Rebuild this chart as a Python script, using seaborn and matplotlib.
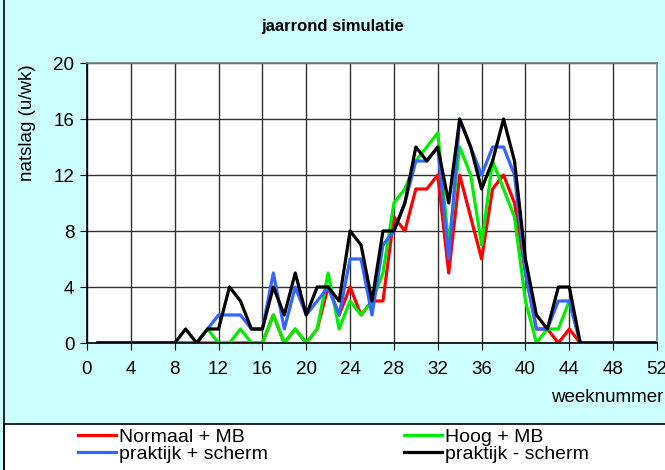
import pandas as pd
import numpy as np
import matplotlib
matplotlib.use("Agg")
import matplotlib.pyplot as plt
import seaborn as sns
from matplotlib.patches import Rectangle
from matplotlib.lines import Line2D

# weeks 1..52
weeks = list(range(1, 53))

normaal_mb = [0, 0, 0, 0, 0, 0, 0, 0, 0, 0,
              0, 0, 0, 0, 0, 0, 2, 0, 1, 0,
              1, 4, 2, 4, 2, 3, 3, 9, 8, 11,
              11, 12, 5, 12, 9, 6, 11, 12, 10, 5,
              1, 1, 0, 1, 0, 0, 0, 0, 0, 0,
              0, 0]
hoog_mb = [0, 0, 0, 0, 0, 0, 0, 0, 0, 0,
           1, 0, 0, 1, 0, 0, 2, 0, 1, 0,
           1, 5, 1, 3, 2, 3, 5, 10, 11, 13,
           14, 15, 7, 14, 12, 7, 13, 11, 9, 3,
           0, 1, 1, 3, 0, 0, 0, 0, 0, 0,
           0, 0]
praktijk_plus = [0, 0, 0, 0, 0, 0, 0, 0, 0, 0,
                 1, 2, 2, 2, 1, 1, 5, 1, 4, 2,
                 3, 4, 2, 6, 6, 2, 7, 8, 10, 13,
                 13, 14, 6, 16, 14, 12, 14, 14, 12, 5,
                 1, 1, 3, 3, 0, 0, 0, 0, 0, 0,
                 0, 0]
praktijk_min = [0, 0, 0, 0, 0, 0, 0, 0, 1, 0,
                1, 1, 4, 3, 1, 1, 4, 2, 5, 2,
                4, 4, 3, 8, 7, 3, 8, 8, 10, 14,
                13, 14, 10, 16, 14, 11, 13, 16, 13, 6,
                2, 1, 4, 4, 0, 0, 0, 0, 0, 0,
                0, 0]

series = [
    ("Normaal + MB", normaal_mb, "#ff0000"),
    ("Hoog + MB", hoog_mb, "#00ee00"),
    ("praktijk + scherm", praktijk_plus, "#3366ff"),
    ("praktijk - scherm", praktijk_min, "#000000"),
]

plt.rcParams['font.family'] = ['Liberation Sans', 'DejaVu Sans']

W, H = 665, 470
fig = plt.figure(figsize=(W / 100, H / 100), dpi=100)
fig.patch.set_facecolor("#ccffff")

ax = fig.add_axes([87 / W, 1 - 343 / H, (657 - 87) / W, (343 - 63) / H])
ax.set_facecolor("white")

for name, vals, col in series:
    df = pd.DataFrame({"week": weeks, "v": vals})
    sns.lineplot(data=df, x="week", y="v", color=col, linewidth=2.3,
                 label=name, ax=ax, legend=False)

ax.set_xlim(0, 52)
ax.set_ylim(0, 20)
ax.set_xticks(range(0, 53, 4))
ax.set_yticks(range(0, 21, 4))
ax.grid(True, color="#303030", linewidth=1.0)
ax.set_axisbelow(True)
ax.tick_params(axis="x", length=5, pad=8, labelsize=13.5, color="black")
ax.tick_params(axis="y", length=5, pad=4, labelsize=13.5, color="black")
ax.set_xlabel("")
ax.set_ylabel("")
for s in ["top", "right"]:
    ax.spines[s].set_color("#808080")
for s in ["left", "bottom"]:
    ax.spines[s].set_color("black")
for sp in ax.spines.values():
    sp.set_linewidth(1.2)

fig.text(333 / W, 1 - 27 / H, "jaarrond simulatie", ha="center", va="center",
         fontsize=12, fontweight="bold")
fig.text(28 / W, 1 - 123 / H, "natslag (u/wk)", rotation=90, ha="center",
         va="center", fontsize=13.5)
fig.text(551 / W, 1 - 397 / H, "weeknummer", ha="left", va="center",
         fontsize=13.5)

# outer frame and legend box
fig.add_artist(Line2D([4 / W, 4 / W], [0, 1], transform=fig.transFigure,
                      color="black", linewidth=1.2))
fig.add_artist(Rectangle((4 / W, -0.01), 1.0, (470 - 424) / H + 0.01,
                         transform=fig.transFigure, facecolor="white",
                         edgecolor="black", linewidth=1.2))

lines = {l.get_label(): l for l in ax.get_lines()}
order = ["Normaal + MB", "praktijk + scherm", "Hoog + MB", "praktijk - scherm"]
handles = [Line2D([], [], color=lines[n].get_color(), linewidth=2.3) for n in order]
fig.legend(handles, order, ncol=2, loc="upper left",
           bbox_to_anchor=(78 / W, 1 - 428 / H), frameon=False, fontsize=14,
           handlelength=1.95, handletextpad=0.15, columnspacing=7.0,
           labelspacing=0.0, borderaxespad=0, borderpad=0)

fig.savefig("out.png", dpi=100, facecolor=fig.get_facecolor())
